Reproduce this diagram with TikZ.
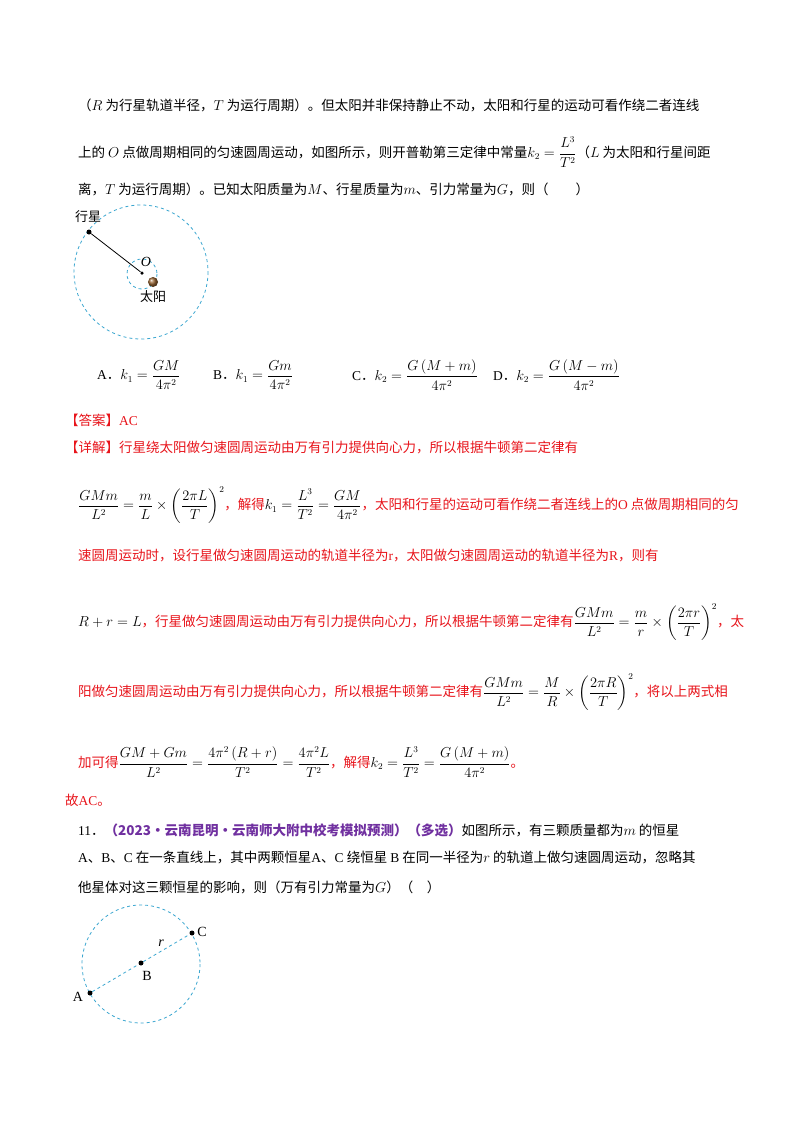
\documentclass[tikz,border=0pt]{standalone}
\usepackage{amsmath}
\usepackage{fontspec}
\setmainfont{Liberation Serif}
\newfontfamily\cjk{Noto Sans CJK SC}
\definecolor{dashblue}{HTML}{3AA6D0}
\definecolor{ans}{HTML}{E8141B}
\definecolor{pur}{HTML}{7030A0}
\tikzset{ln/.style={anchor=west,inner sep=0pt,font=\fontsize{13.5}{16}\selectfont},
lab/.style={inner sep=0pt,font=\cjk\fontsize{13}{15}\selectfont},
dc/.style={draw=dashblue,dashed,line width=0.8pt},
dotn/.style={circle,fill=black,inner sep=0pt,minimum size=5pt}}
\newcommand{\C}[1]{{\cjk #1}}
\begin{document}
\begin{tikzpicture}[x=1pt,y=-1pt]
\useasboundingbox[fill=white] (0,0) rectangle (800,1132);
\node[ln] (l1) at (78,105) {\C{（}$R$\C{ 为行星轨道半径，}$T$\C{ 为运行周期）。但太阳并非保持静止不动，太阳和行星的运动可看作绕二者连线}};
\node[ln] (l2) at (78,152) {\C{上的 }$O$\C{ 点做周期相同的匀速圆周运动，如图所示，则开普勒第三定律中常量}$k_2=\dfrac{L^3}{T^2}$\C{（}$L$\C{ 为太阳和行星间距}};
\node[ln] (l3) at (78,189) {\C{离，}$T$\C{ 为运行周期）。已知太阳质量为}$M$\C{、行星质量为}$m$\C{、引力常量为}$G$\C{，则（\quad\quad）}};
% figure 1
\draw[dc] (141,272) circle (67);
\draw[dc] (142,274) circle (15);
\node[dotn] (pl) at (89,232) {};
\node[dotn,minimum size=3.5pt] (o) at (142,273) {};
\draw[thick] (pl) -- (o);
\shade[ball color=brown!80!black] (153,282) circle (5);
\node[circle,inner sep=0pt,minimum size=10pt] (sun) at (153,282) {};
\node[lab] (t1) at (88,217) {行星};
\node[inner sep=0pt,font=\itshape\fontsize{14}{16}\selectfont] (tO) at (146,262) {O};
\node[lab] (t2) at (153,297) {太阳};
% options
\node[ln] (oa) at (97,375) {A\C{．}$k_1=\dfrac{GM}{4\pi^2}$};
\node[ln] (ob) at (213,375) {B\C{．}$k_1=\dfrac{Gm}{4\pi^2}$};
\node[ln] (oc) at (352,375) {C\C{．}$k_2=\dfrac{G\left(M+m\right)}{4\pi^2}$};
\node[ln] (od) at (493,375) {D\C{．}$k_2=\dfrac{G\left(M-m\right)}{4\pi^2}$};
\begin{scope}[every node/.append style={text=ans}]
\node[ln] (a1) at (65,420) {\C{【答案】}AC};
\node[ln] (a2) at (65,448) {\C{【详解】行星绕太阳做匀速圆周运动由万有引力提供向心力，所以根据牛顿第二定律有}};
\node[ln] (a3) at (78,505) {\color{black}$\dfrac{GMm}{L^2}=\dfrac{m}{L}\times\left(\dfrac{2\pi L}{T}\right)^2$\color{ans}\C{，解得}\color{black}$k_1=\dfrac{L^3}{T^2}=\dfrac{GM}{4\pi^2}$\color{ans}\C{，太阳和行星的运动可看作绕二者连线上的}O\C{ 点做周期相同的匀}};
\node[ln] (a4) at (78,556) {\C{速圆周运动时，设行星做匀速圆周运动的轨道半径为}r\C{，太阳做匀速圆周运动的轨道半径为}R\C{，则有}};
\node[ln] (a5) at (78,622) {\color{black}$R+r=L$\color{ans}\C{，行星做匀速圆周运动由万有引力提供向心力，所以根据牛顿第二定律有}\color{black}$\dfrac{GMm}{L^2}=\dfrac{m}{r}\times\left(\dfrac{2\pi r}{T}\right)^2$\color{ans}\C{，太}};
\node[ln] (a6) at (78,692) {\C{阳做匀速圆周运动由万有引力提供向心力，所以根据牛顿第二定律有}\color{black}$\dfrac{GMm}{L^2}=\dfrac{M}{R}\times\left(\dfrac{2\pi R}{T}\right)^2$\color{ans}\C{，将以上两式相}};
\node[ln] (a7) at (78,762) {\C{加可得}\color{black}$\dfrac{GM+Gm}{L^2}=\dfrac{4\pi^2\left(R+r\right)}{T^2}=\dfrac{4\pi^2L}{T^2}$\color{ans}\C{，解得}\color{black}$k_2=\dfrac{L^3}{T^2}=\dfrac{G\left(M+m\right)}{4\pi^2}$\color{ans}\C{。}};
\node[ln] (a8) at (65,800) {\C{故}AC\C{。}};
\end{scope}
\node[ln] (q1) at (78,830) {11\C{．}\textcolor{pur}{\bfseries\C{（2023·云南昆明·云南师大附中校考模拟预测）（多选）}}\C{如图所示，有三颗质量都为}$m$\C{ 的恒星}};
\node[ln] (q2) at (78,858) {A\C{、}B\C{、}C\C{ 在一条直线上，其中两颗恒星}A\C{、}C\C{ 绕恒星 }B\C{ 在同一半径为}$r$\C{ 的轨道上做匀速圆周运动，忽略其}};
\node[ln] (q3) at (78,887) {\C{他星体对这三颗恒星的影响，则（万有引力常量为}$G$\C{）（\quad）}};
% figure 2
\draw[dc] (141,964) circle (59);
\node[dotn] (A) at (90,993) {};
\node[dotn] (B) at (141,963) {};
\node[dotn] (C) at (192,933) {};
\draw[dc] (A) -- (B) -- (C);
\node[inner sep=0pt,font=\fontsize{14}{16}\selectfont] (lA) at (78,997) {A};
\node[inner sep=0pt,font=\fontsize{14}{16}\selectfont] (lB) at (147,976) {B};
\node[inner sep=0pt,font=\fontsize{14}{16}\selectfont] (lC) at (202,932) {C};
\node[inner sep=0pt,font=\itshape\fontsize{14}{16}\selectfont] (lr) at (161,943) {r};
\end{tikzpicture}
\end{document}
